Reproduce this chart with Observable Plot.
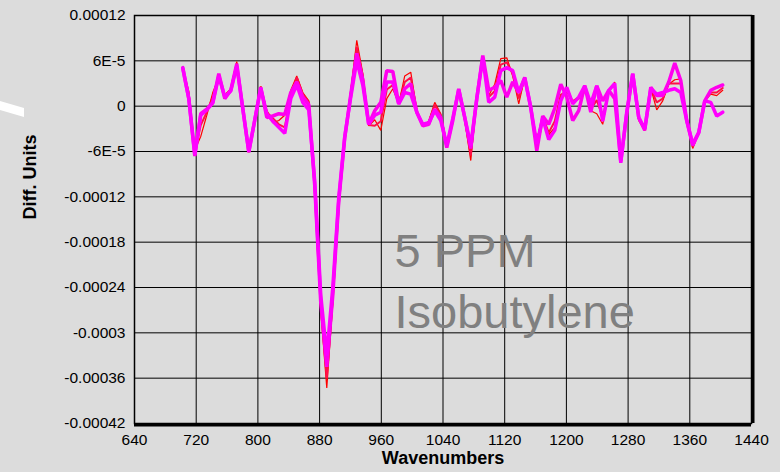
<!DOCTYPE html>
<html><head><meta charset="utf-8">
<script src="https://cdn.jsdelivr.net/npm/d3@7"></script>
<script src="https://cdn.jsdelivr.net/npm/@observablehq/plot@0.6"></script>
<style>
html,body{margin:0;padding:0;background:#dcdcdc;}
#wrap{position:relative;width:780px;height:472px;overflow:hidden;}
#slash{position:absolute;left:0;top:0;}
</style></head><body><div id="wrap"></div>
<script>
// Wavenumbers (cm-1) of the spectrum samples
const wavenumbers = [702.6,710.4,718.2,725.9,733.7,741.5,749.3,757.1,764.8,772.6,780.4,788.2,796.0,803.7,811.5,819.3,827.1,834.8,842.6,850.4,858.2,866.0,873.7,881.5,889.3,897.1,904.9,912.6,920.4,928.2,936.0,943.7,951.5,959.3,967.1,974.9,982.6,990.4,998.2,1006.0,1013.8,1021.5,1029.3,1037.1,1044.9,1052.7,1060.4,1068.2,1076.0,1083.8,1091.6,1099.3,1107.1,1114.9,1122.7,1130.4,1138.2,1146.0,1153.8,1161.6,1169.3,1177.1,1184.9,1192.7,1200.5,1208.2,1216.0,1223.8,1231.6,1239.4,1247.1,1254.9,1262.7,1270.5,1278.2,1286.0,1293.8,1301.6,1309.4,1317.1,1324.9,1332.7,1340.5,1348.3,1356.0,1363.8,1371.6,1379.4,1387.2,1394.9,1402.7];

// Series values in units of 1e-5 Diff. Units
const UNIT = 1e-5;
const run1 = [5.0,2.0,-5.8,-4.0,-1.2,1.8,3.8,1.5,2.3,5.9,
 -0.2,-6.0,-1.7,2.6,-0.5,-2.2,-1.9,-1.2,2.1,4.0,
 1.8,0.7,-11,-27,-37.3,-26,-13,-4.5,2.0,8.7,
 4.3,-2.6,-1.8,-3.2,1.0,2.3,0.3,4.0,4.5,-0.5,
 -2.6,-2.0,0.5,-1.0,-5.0,-1.5,2.0,-1.9,-7.2,1.0,
 6.6,1.4,2.9,6.3,6.4,4.0,0.3,3.8,-0.3,-4.4,
 -1.5,-3.8,-2.8,1.0,2.5,0.7,1.2,2.7,-0.6,-1.0,
 -2.4,1.8,3.2,-7.5,-1.2,4.0,-1.9,-3.2,2.4,-0.5,
 0.7,2.9,3.5,3.6,-1.9,-5.6,-3.5,0.7,1.6,1.4,
 2.1];
const run2 = [5.0,1.5,-6.2,-2.5,-0.8,1.2,4.0,1.3,2.2,5.7,
 -0.3,-6.1,-1.8,2.6,-0.8,-1.6,-2.4,-2.8,1.5,3.8,
 1.6,0.5,-11,-26.5,-36,-25.5,-13,-4.4,1.8,7.8,
 4.0,-2.5,-2.6,-2.0,2.2,2.8,0.3,3.2,3.8,-0.6,
 -2.6,-2.1,0.2,-1.2,-5.3,-1.7,2.2,-1.7,-6.5,1.0,
 6.6,1.2,2.0,5.5,5.8,4.3,1.0,3.8,-0.2,-4.8,
 -1.4,-3.5,-2.0,1.5,2.0,0.5,1.0,2.7,-0.4,0.8,
 -1.5,2.0,3.0,-7.4,-1.0,4.2,-1.7,-3.2,2.4,0.5,
 1.0,3.0,3.0,3.0,-1.9,-5.4,-3.5,0.7,1.8,1.8,
 2.4];
const run3 = [5.1,1.0,-6.6,-1.0,-0.4,0.5,4.3,1.0,2.1,5.6,
 -0.3,-6.1,-1.8,2.5,-1.5,-1.3,-1.0,-1.1,1.8,3.2,
 1.2,0.2,-10.5,-26,-34.5,-25,-12.5,-4.2,1.5,7.0,
 3.5,-2.4,-0.6,0.5,4.7,4.6,0.3,2.3,3.0,-0.8,
 -2.6,-2.4,-0.4,-1.5,-5.5,-1.9,2.3,-1.5,-5.6,1.0,
 6.7,2.1,2.5,3.4,1.2,3.2,1.8,3.8,-0.2,-5.9,
 -1.3,-2.4,-0.3,2.9,1.2,-1.9,-0.6,2.7,-0.8,2.7,
 0.7,2.1,1.0,-7.3,-1.0,4.3,-1.5,-3.2,2.5,1.4,
 1.4,3.2,5.7,3.4,-1.9,-5.2,-3.5,0.7,2.1,2.5,
 2.8];
const run4 = [5.0,1.0,-6.4,-1.2,-0.5,0.4,4.0,1.2,2.0,5.3,
 -0.3,-6.0,-1.8,2.4,-1.0,-2.0,-2.8,-3.6,1.0,2.8,
 0.5,-0.5,-10,-25,-33,-24,-12,-4.0,1.2,6.0,
 2.8,-2.4,-1.2,-0.8,3.2,3.2,0.3,1.8,1.6,-0.8,
 -2.4,-2.2,-0.6,-1.9,-5.2,-1.6,2.2,-1.5,-5.2,1.0,
 6.4,0.5,1.2,4.7,5.1,4.7,1.8,3.7,-0.2,-5.0,
 -1.6,-4.4,-3.2,0.7,2.5,0.3,1.2,2.7,0.3,2.7,
 -2.0,2.1,3.0,-7.5,-0.8,4.3,-1.5,-3.0,2.3,1.6,
 1.8,2.1,2.3,1.8,-1.9,-5.0,-3.5,0.7,0.5,-1.3,
 -0.8];

const seriesNames = ["Run 1","Run 2","Run 3","Run 4"];
const seriesValues = [run1, run2, run3, run4];
const seriesColors = ["#ff0000","#ff0f4a","#ff00ee","#ff00ff"];
const seriesWidths = [1.2, 2, 3.5, 3.5];

const xTicks = [640,720,800,880,960,1040,1120,1200,1280,1360,1440];
const yTicks = [0.00012,0.00006,0,-0.00006,-0.00012,-0.00018,-0.00024,-0.0003,-0.00036,-0.00042];
const yTickLabels = ["0.00012","6E-5","0","-6E-5","-0.00012","-0.00018","-0.00024","-0.0003","-0.00036","-0.00042"];
const annotation = "5 PPM\nIsobutylene";
const xTitle = "Wavenumbers";
const yTitle = "Diff. Units";

const yFmt = d => { const i = yTicks.findIndex(t => Math.abs(t - d) < 1e-12); return i >= 0 ? yTickLabels[i] : ""; };

const lineMarks = seriesNames.map((name, s) => {
  const rows = wavenumbers.map((w, i) => ({series: name, wn: w, value: seriesValues[s][i] * UNIT}));
  return Plot.line(rows, {x: "wn", y: "value", stroke: seriesColors[s], strokeWidth: seriesWidths[s], strokeLinejoin: "miter"});
});

const chart = Plot.plot({
  width: 780, height: 472,
  marginLeft: 134, marginRight: 29, marginTop: 15, marginBottom: 49,
  style: {background: "#dcdcdc", fontFamily: "'Liberation Sans', Arial, sans-serif", fontSize: "15.5px", color: "#000", overflow: "visible"},
  x: {domain: [640, 1440]},
  y: {domain: [-0.00042, 0.00012]},
  marks: [
    Plot.gridX(xTicks, {stroke: "#000", strokeOpacity: 1, strokeWidth: 1}),
    Plot.gridY(yTicks, {stroke: "#000", strokeOpacity: 1, strokeWidth: 1}),
    Plot.axisX({ticks: xTicks, tickSize: 0, tickPadding: 10, label: null, tickFormat: d => String(d)}),
    Plot.axisY({ticks: yTicks, tickSize: 0, tickPadding: 9, label: null, tickFormat: yFmt}),
    ...lineMarks,
    Plot.frame({stroke: "#000", strokeWidth: 1.5}),
    Plot.ruleX([1440], {stroke: "#000", strokeWidth: 3, dx: 1.5}),
    Plot.ruleY([-0.00042], {stroke: "#000", strokeWidth: 3, dy: 1.5}),
    Plot.text([annotation], {text: d => d, frameAnchor: "top-left", dx: 260, dy: 208, lineAnchor: "top", textAnchor: "start", lineHeight: 1.3, fontSize: 47, fill: "#808080"}),
    Plot.text([xTitle], {text: d => d, frameAnchor: "bottom", dy: 40, fontWeight: "bold", fontSize: 18, fill: "#000"}),
    Plot.text([yTitle], {text: d => d, frameAnchor: "left", dx: -104, rotate: -90, fontWeight: "bold", fontSize: 18, fill: "#000"})
  ]
});
const wrap = document.getElementById("wrap");
wrap.appendChild(chart);
// white slash decoration at the top-left of the picture
const ns = "http://www.w3.org/2000/svg";
const deco = document.createElementNS(ns, "svg");
deco.setAttribute("id", "slash"); deco.setAttribute("width", "40"); deco.setAttribute("height", "140");
const poly = document.createElementNS(ns, "polygon");
poly.setAttribute("points", "0,101 24,108 24,117 0,110");
poly.setAttribute("fill", "#ffffff");
deco.appendChild(poly);
wrap.appendChild(deco);
</script></body></html>
